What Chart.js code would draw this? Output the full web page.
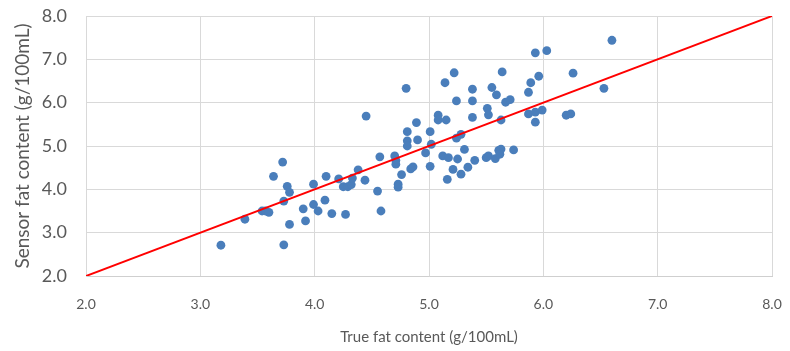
<!DOCTYPE html>
<html>
<head>
<meta charset="utf-8">
<script src="https://cdn.jsdelivr.net/npm/chart.js@4/dist/chart.umd.min.js"></script>
<style>
  html, body { margin: 0; padding: 0; background: #fff; }
  #wrap { width: 790px; height: 351px; }
</style>
</head>
<body>
<div id="wrap"><canvas id="myChart" width="790" height="351"></canvas></div>
<script>
// measured samples: true fat (x) vs sensor fat (y), g/100mL
var trueFat = [3.18, 3.39, 3.54, 3.57, 3.60, 3.64, 3.72, 3.76, 3.78, 3.73,
               3.78, 3.73, 3.90, 3.92, 3.99, 3.99, 4.03, 4.09, 4.10, 4.15,
               4.21, 4.25, 4.27, 4.29, 4.32, 4.33, 4.38, 4.44, 4.45, 4.55,
               4.57, 4.58, 4.70, 4.71, 4.71, 4.76, 4.73, 4.73, 4.80, 4.81,
               4.81, 4.81, 4.84, 4.86, 4.89, 4.90, 4.97, 5.01, 5.01, 5.02,
               5.08, 5.08, 5.14, 5.15, 5.12, 5.17, 5.16, 5.21, 5.24, 5.22,
               5.24, 5.28, 5.25, 5.28, 5.31, 5.34, 5.38, 5.38, 5.38, 5.40,
               5.51, 5.52, 5.55, 5.59, 5.50, 5.52, 5.58, 5.61, 5.63, 5.62,
               5.74, 5.63, 5.64, 5.67, 5.71, 5.87, 5.89, 5.93, 6.03, 5.96,
               5.87, 5.93, 5.99, 5.93, 6.20, 6.24, 6.26, 6.53, 6.60];
var sensorFat = [2.71, 3.31, 3.50, 3.50, 3.47, 4.30, 4.63, 4.07, 3.93, 3.73,
                 3.19, 2.72, 3.55, 3.27, 4.12, 3.65, 3.50, 3.75, 4.30, 3.44,
                 4.24, 4.06, 3.42, 4.06, 4.11, 4.26, 4.45, 4.21, 5.69, 3.96,
                 4.75, 3.50, 4.77, 4.67, 4.58, 4.34, 4.12, 4.05, 6.33, 5.33,
                 5.12, 5.00, 4.47, 4.52, 5.54, 5.14, 4.84, 5.33, 4.53, 5.04,
                 5.71, 5.60, 6.46, 5.60, 4.77, 4.73, 4.23, 4.46, 6.04, 6.69,
                 5.18, 5.27, 4.70, 4.35, 4.92, 4.51, 6.31, 6.04, 5.66, 4.67,
                 5.87, 5.72, 6.35, 6.18, 4.73, 4.77, 4.71, 4.90, 4.93, 4.81,
                 4.91, 5.60, 6.71, 6.01, 6.07, 6.24, 6.46, 7.15, 7.20, 6.61,
                 5.74, 5.78, 5.83, 5.55, 5.71, 5.74, 6.68, 6.33, 7.44];
// 1:1 reference line
var lineX = [2, 8];
var lineY = [2, 8];
var axisMin = 2, axisMax = 8;

var points = trueFat.map(function (x, i) { return {x: x, y: sensorFat[i]}; });
var refLine = lineX.map(function (x, i) { return {x: x, y: lineY[i]}; });

var textColor = '#595959';
var gridColor = '#d9d9d9';

var ctx = document.getElementById('myChart');
var chart = new Chart(ctx, {
  type: 'scatter',
  data: {
    datasets: [{
      label: 'Samples',
      data: points,
      backgroundColor: '#4a7ebb',
      borderColor: '#4a7ebb',
      pointRadius: 4.4,
      pointBorderWidth: 0,
      order: 2
    }, {
      type: 'line',
      label: '1:1',
      data: refLine,
      borderColor: '#ff0000',
      borderWidth: 2,
      pointRadius: 0,
      fill: false,
      order: 1
    }]
  },
  options: {
    responsive: false,
    animation: false,
    layout: { padding: { left: 0, right: 18, top: 16, bottom: 0 } },
    plugins: { legend: { display: false }, tooltip: { enabled: false } },
    scales: {
      x: {
        type: 'linear',
        min: axisMin, max: axisMax,
        ticks: {
          stepSize: 1, color: textColor, padding: 20,
          font: { family: 'Lato', size: 14 },
          callback: function (v) { return v.toFixed(1); }
        },
        grid: { color: gridColor, drawTicks: false },
        border: { color: '#cfcfcf' },
        title: {
          display: true, text: 'True fat content (g/100mL)', color: textColor,
          font: { family: 'Lato', size: 15 }, padding: { top: 0, bottom: 5 }
        },
        afterFit: function (s) { s.height = 75; s.paddingLeft = 0; s.paddingRight = 0; }
      },
      y: {
        type: 'linear',
        min: axisMin, max: axisMax,
        ticks: {
          stepSize: 1, color: textColor, padding: 19,
          font: { family: 'Lato', size: 18 },
          callback: function (v) { return v.toFixed(1); }
        },
        grid: { color: gridColor, drawTicks: false },
        border: { color: gridColor },
        title: {
          display: true, text: 'Sensor fat content (g/100mL)', color: textColor,
          font: { family: 'Lato', size: 19 }, padding: { top: 11, bottom: 0 }
        },
        afterFit: function (s) { s.width = 86; s.paddingTop = 0; s.paddingBottom = 0; }
      }
    }
  }
});
</script>
</body>
</html>
